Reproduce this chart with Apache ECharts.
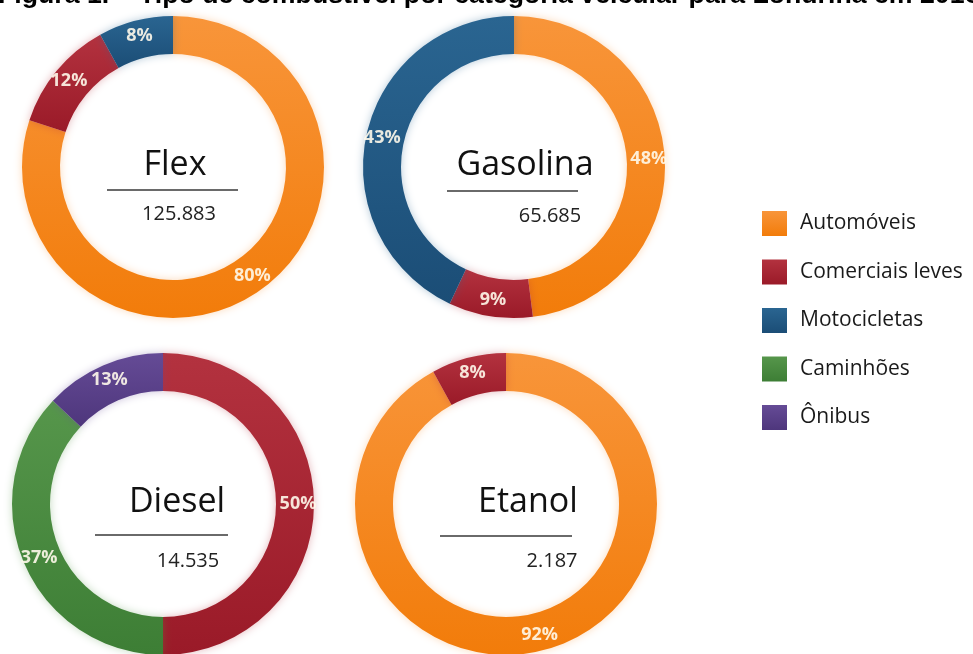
<!DOCTYPE html>
<html>
<head>
<meta charset="utf-8">
<script src="https://cdn.jsdelivr.net/npm/echarts@6/dist/echarts.min.js"></script>
<style>
  html, body { margin: 0; padding: 0; background: #ffffff; }
  #chart { width: 973px; height: 654px; }
</style>
</head>
<body>
<div id="chart"></div>
<script>
// Vehicle categories (legend order)
const categories = ['Automóveis', 'Comerciais leves', 'Motocicletas', 'Caminhões', 'Ônibus'];

// Fuel types and their fleet totals
const fuels = ['Flex', 'Gasolina', 'Diesel', 'Etanol'];
const fleetTotals = [125883, 65685, 14535, 2187];

// Share (%) of each category inside each fuel type, same order as categories
const flexShare     = [80, 12, 8, 0, 0];
const gasolinaShare = [48, 9, 43, 0, 0];
const dieselShare   = [0, 50, 0, 37, 13];
const etanolShare   = [92, 8, 0, 0, 0];

const shares = [flexShare, gasolinaShare, dieselShare, etanolShare];

const chartTitle = 'Figura 1. – Tipo de combustível por categoria veicular para Londrina em 2016';

// Colour pairs (top, bottom) per category
const palette = [
  ['#F8953A', '#F27C0A'],
  ['#B3323F', '#9A1A28'],
  ['#2A6591', '#1B4D76'],
  ['#56964B', '#3D7E35'],
  ['#654B96', '#4E367C']
];

// Layout of the four rings: ring centre, title/total positions, divider line
const layout = [
  { c: [173, 167], title: [175, 165], line: [107, 238, 190], total: [179, 214] },
  { c: [514, 167], title: [525, 165], line: [447, 578, 191], total: [550, 216] },
  { c: [163, 504], title: [177, 502], line: [95, 228, 535], total: [188, 561] },
  { c: [506, 504], title: [528, 502], line: [440, 572, 536], total: [552, 561] }
];

function fmtThousands(n) {
  return String(n).replace(/\B(?=(\d{3})+(?!\d))/g, '.');
}

function fillFor(i) {
  return new echarts.graphic.LinearGradient(0, 0, 0, 1, [
    { offset: 0, color: palette[i][0] },
    { offset: 1, color: palette[i][1] }
  ]);
}

const series = fuels.map(function (fuel, f) {
  const data = [];
  shares[f].forEach(function (v, i) {
    if (v > 0) {
      data.push({
        name: categories[i],
        value: v,
        itemStyle: {
          color: fillFor(i),
          shadowBlur: 8,
          shadowColor: echarts.color.modifyAlpha(palette[i][0], 0.35)
        }
      });
    }
  });
  return {
    type: 'pie',
    name: fuel,
    center: layout[f].c,
    radius: [113, 151],
    startAngle: 90,
    clockwise: true,
    silent: true,
    label: {
      show: true,
      position: 'inside',
      formatter: '{c}%',
      fontFamily: 'Open Sans',
      fontWeight: 'bold',
      fontSize: 18,
      color: 'rgba(255,250,235,0.9)'
    },
    labelLine: { show: false },
    emphasis: { disabled: true },
    data: data
  };
});

const graphics = [
  {
    type: 'text',
    left: -2,
    top: -18,
    style: {
      text: chartTitle,
      fontFamily: 'Liberation Sans',
      fontWeight: 'bold',
      fontSize: 26.7,
      fill: '#000'
    }
  }
];

fuels.forEach(function (fuel, f) {
  const L = layout[f];
  graphics.push({
    type: 'text',
    x: L.title[0],
    y: L.title[1],
    style: {
      text: fuel,
      fontFamily: 'Open Sans',
      fontSize: 34,
      fill: '#111',
      align: 'center',
      verticalAlign: 'middle'
    }
  });
  graphics.push({
    type: 'line',
    shape: { x1: L.line[0], y1: L.line[2], x2: L.line[1], y2: L.line[2] },
    style: { stroke: '#6a6a6a', lineWidth: 2 }
  });
  graphics.push({
    type: 'text',
    x: L.total[0],
    y: L.total[1],
    style: {
      text: fmtThousands(fleetTotals[f]),
      fontFamily: 'Open Sans',
      fontSize: 20,
      fill: '#222',
      align: 'center',
      verticalAlign: 'middle'
    }
  });
});

const chart = echarts.init(document.getElementById('chart'), null, { renderer: 'canvas' });
chart.setOption({
  backgroundColor: '#ffffff',
  animation: false,
  legend: {
    data: categories,
    orient: 'vertical',
    left: 757,
    top: 206,
    itemWidth: 25,
    itemHeight: 25,
    itemGap: 23.5,
    icon: 'rect',
    selectedMode: false,
    textStyle: {
      fontFamily: 'Open Sans',
      fontSize: 21,
      color: '#1a1a1a',
      padding: [0, 0, 0, 8]
    }
  },
  graphic: graphics,
  series: series
});
</script>
</body>
</html>
